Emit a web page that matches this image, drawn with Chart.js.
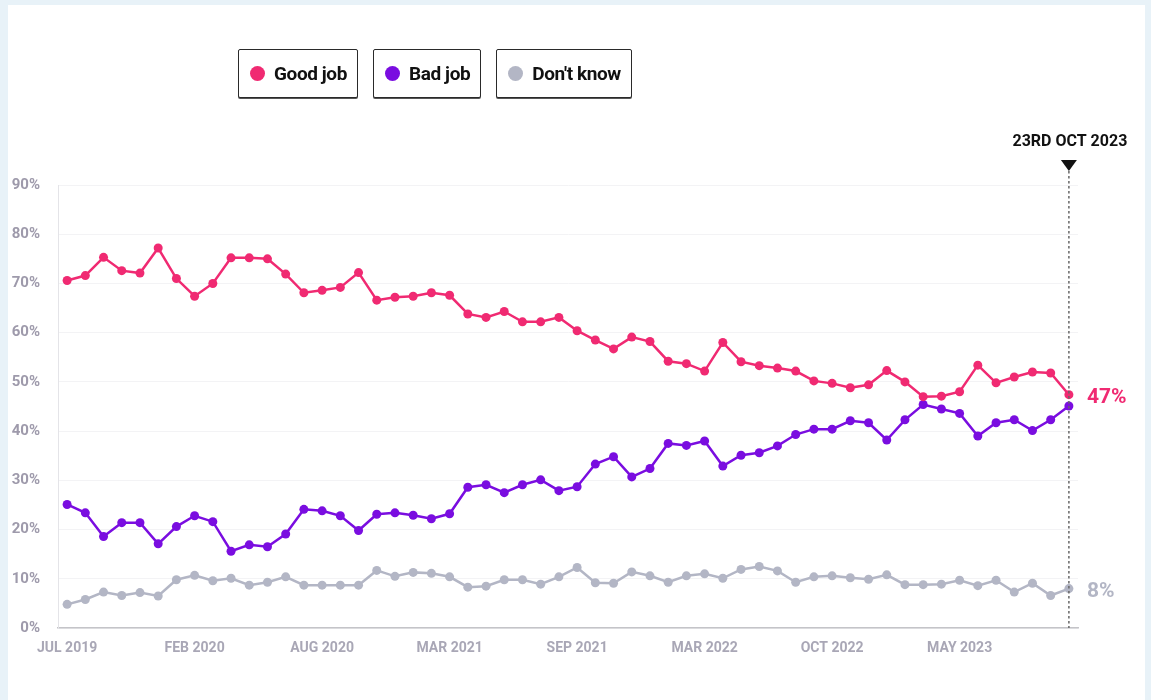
<!DOCTYPE html>
<html>
<head>
<meta charset="utf-8">
<script src="https://cdn.jsdelivr.net/npm/chart.js@4"></script>
<style>
  html, body { margin: 0; padding: 0; }
  body { background: #e8f2f8; width: 1151px; height: 700px; position: relative; overflow: hidden; font-family: Roboto, sans-serif; }
  #panel { position: absolute; left: 8px; top: 5px; right: 6px; bottom: 0; background: #fff; }
  #chart { position: absolute; left: 0; top: 0; }
  #legend { position: absolute; left: 238px; top: 49px; display: flex; gap: 15px; }
  .item { display: flex; align-items: center; height: 47px; padding: 0 10px 0 11px; border: 1px solid #2a2a2a; border-radius: 2px; box-shadow: 0 1px 0 #555; background: #fff; font-weight: 700; font-size: 19px; color: #111; letter-spacing: -0.4px; }
  .dot { width: 15px; height: 15px; border-radius: 50%; margin-right: 9px; }
</style>
</head>
<body>
<div id="panel"></div>
<canvas id="chart" width="1151" height="700"></canvas>
<div id="legend"></div>
<script>
const seriesNames = ['Good job', 'Bad job', "Don't know"]
const seriesColors = ['#f02a72', '#7a0de0', '#b3b6c5']
const tickLabels = ['JUL 2019', 'FEB 2020', 'AUG 2020', 'MAR 2021', 'SEP 2021', 'MAR 2022', 'OCT 2022', 'MAY 2023']
const yTicks = [0, 10, 20, 30, 40, 50, 60, 70, 80, 90]
const markerLabel = '23RD OCT 2023'

const goodJob = [70.6, 71.6, 75.3, 72.6, 72.1, 77.2, 71.0, 67.4, 70.0, 75.2,
  75.2, 75.0, 71.9, 68.1, 68.6, 69.2, 72.2, 66.6, 67.2, 67.4,
  68.1, 67.6, 63.8, 63.1, 64.3, 62.2, 62.2, 63.1, 60.4, 58.5,
  56.7, 59.1, 58.2, 54.2, 53.7, 52.2, 58.0, 54.1, 53.3, 52.8,
  52.2, 50.2, 49.7, 48.8, 49.4, 52.3, 50.0, 47.0, 47.1, 48.0,
  53.4, 49.8, 51.0, 52.0, 51.8, 47.4]
const badJob = [25.1, 23.4, 18.6, 21.4, 21.4, 17.1, 20.6, 22.8, 21.6, 15.6,
  16.9, 16.5, 19.1, 24.1, 23.8, 22.8, 19.8, 23.1, 23.4, 22.9,
  22.2, 23.2, 28.6, 29.1, 27.5, 29.1, 30.1, 27.9, 28.7, 33.3,
  34.8, 30.7, 32.4, 37.5, 37.1, 38.0, 32.9, 35.1, 35.6, 37.0,
  39.3, 40.4, 40.4, 42.1, 41.7, 38.2, 42.3, 45.4, 44.5, 43.6,
  39.0, 41.7, 42.3, 40.1, 42.3, 45.1]
const dontKnow = [4.8, 5.8, 7.3, 6.6, 7.2, 6.5, 9.8, 10.7, 9.6, 10.1,
  8.7, 9.3, 10.4, 8.7, 8.7, 8.7, 8.7, 11.7, 10.5, 11.3,
  11.1, 10.4, 8.3, 8.5, 9.8, 9.8, 8.9, 10.4, 12.3, 9.2,
  9.1, 11.4, 10.6, 9.3, 10.6, 11.0, 10.1, 11.9, 12.5, 11.6,
  9.3, 10.4, 10.6, 10.2, 9.9, 10.8, 8.8, 8.8, 8.9, 9.7,
  8.6, 9.7, 7.3, 9.1, 6.6, 8.0]

// one tick label every 7 polls
const labels = goodJob.map((_, i) => i % 7 === 0 ? tickLabels[i / 7] : '')

Chart.defaults.font.family = 'Roboto, sans-serif'

function line(name, data, color) {
  return {
    label: name,
    data: data,
    borderColor: color,
    backgroundColor: color,
    borderWidth: 2.5,
    pointRadius: 4.5,
    pointBorderWidth: 0,
    tension: 0
  }
}

const endMarker = {
  id: 'endMarker',
  afterDatasetsDraw(chart) {
    const ctx = chart.ctx
    const x = chart.scales.x.getPixelForValue(labels.length - 1)
    const area = chart.chartArea
    ctx.save()
    ctx.strokeStyle = '#666'
    ctx.lineWidth = 1.5
    ctx.setLineDash([2.5, 2.5])
    ctx.beginPath()
    ctx.moveTo(x, 171)
    ctx.lineTo(x, area.bottom)
    ctx.stroke()
    ctx.setLineDash([])
    ctx.fillStyle = '#111'
    ctx.beginPath()
    ctx.moveTo(x - 8, 160)
    ctx.lineTo(x + 8, 160)
    ctx.lineTo(x, 171)
    ctx.closePath()
    ctx.fill()
    ctx.font = '700 16px Roboto, sans-serif'
    ctx.textAlign = 'center'
    ctx.textBaseline = 'middle'
    ctx.fillText(markerLabel, x + 1, 142)

    // end values for good job and don't know
    ctx.font = '700 21px Roboto, sans-serif'
    ctx.textAlign = 'left'
    const y = chart.scales.y
    const last = labels.length - 1
    ctx.fillStyle = seriesColors[0]
    ctx.fillText(Math.round(goodJob[last]) + '%', 1087, y.getPixelForValue(goodJob[last]) + 3)
    ctx.fillStyle = seriesColors[2]
    ctx.fillText(Math.round(dontKnow[last]) + '%', 1087, y.getPixelForValue(dontKnow[last]) + 3)
    ctx.restore()
  }
}

const chart = new Chart(document.getElementById('chart'), {
  type: 'line',
  data: {
    labels: labels,
    datasets: [
      line(seriesNames[0], goodJob, seriesColors[0]),
      line(seriesNames[1], badJob, seriesColors[1]),
      line(seriesNames[2], dontKnow, seriesColors[2])
    ]
  },
  options: {
    responsive: false,
    animation: false,
    layout: { padding: { left: 0, top: 185, right: 73, bottom: 30 } },
    plugins: { legend: { display: false }, tooltip: { enabled: false } },
    scales: {
      x: {
        offset: true,
        grid: { display: false },
        border: { display: true, color: '#c4c4c8', width: 1.5 },
        ticks: {
          autoSkip: false,
          maxRotation: 0,
          padding: 4,
          color: '#a9a7b6',
          font: { size: 14, weight: '700' }
        },
        afterFit(scale) { scale.height = 42 }
      },
      y: {
        min: 0,
        max: 90,
        afterBuildTicks(scale) { scale.ticks = yTicks.map(v => ({ value: v })) },
        grid: { color: '#f3f3f5', drawTicks: false },
        border: { display: true, color: '#e4e4e8' },
        ticks: {
          padding: 18,
          color: '#9e9aab',
          font: { size: 15, weight: '700' },
          callback: v => v + '%'
        },
        afterFit(scale) { scale.width = 58 }
      }
    }
  },
  plugins: [endMarker]
})

// html legend built from the chart datasets
const legend = document.getElementById('legend')
chart.data.datasets.forEach(ds => {
  const item = document.createElement('div')
  item.className = 'item'
  const dot = document.createElement('span')
  dot.className = 'dot'
  dot.style.background = ds.borderColor
  item.appendChild(dot)
  item.appendChild(document.createTextNode(ds.label))
  legend.appendChild(item)
})
</script>
</body>
</html>
